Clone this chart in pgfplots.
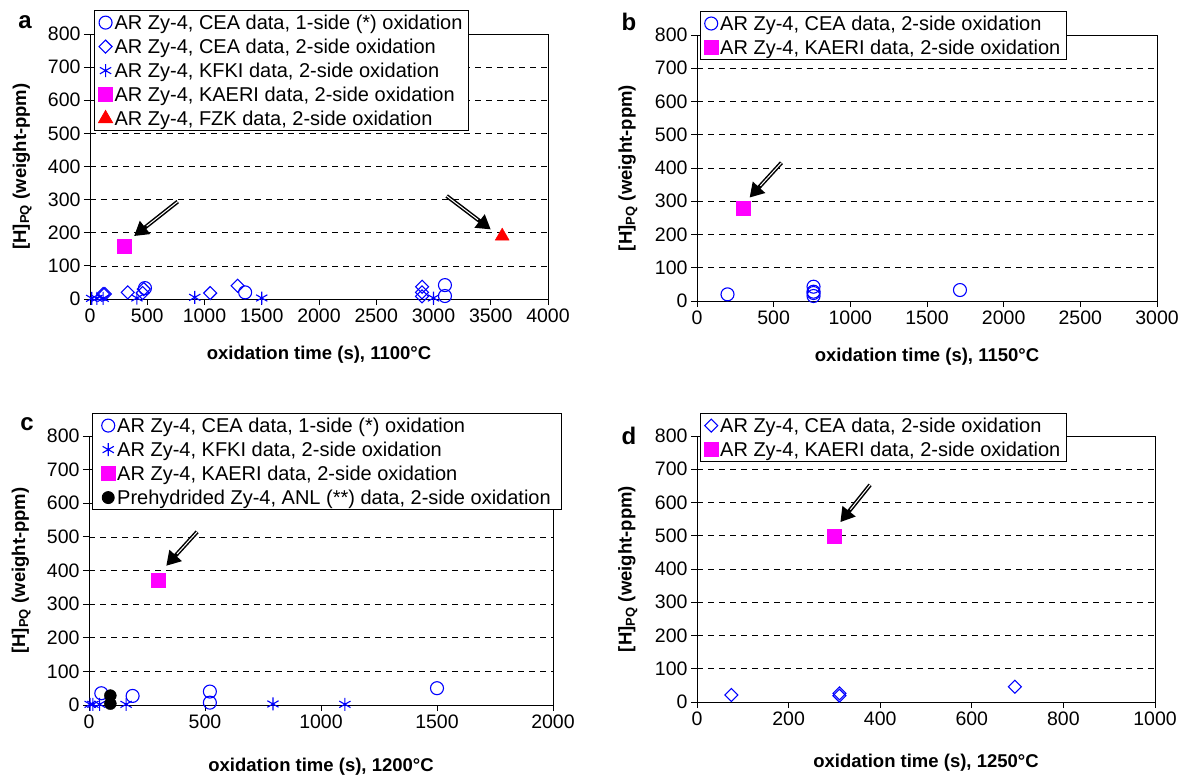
\documentclass[border=0pt]{standalone}
\usepackage{fontspec}
\setmainfont{Liberation Sans}
\usepackage{pgfplots}
\pgfplotsset{compat=1.18}
\usetikzlibrary{arrows.meta}
\definecolor{mblue}{RGB}{0,0,255}
\definecolor{mmag}{RGB}{255,0,255}
\definecolor{mred}{RGB}{255,0,0}

\newcommand{\hlabel}{[H]\textsubscript{PQ} (weight-ppm)}

\pgfplotsset{
  panel/.style={
    scale only axis, anchor=south west, clip=false,
    ymin=0, ymax=800, ytick={0,100,...,800}, xmin=0,
    ymajorgrids, grid style={black, line width=0.7pt, dash pattern=on 6pt off 5pt},
    axis line style={black, line width=0.9pt},
    tick align=outside, xtick pos=bottom, ytick pos=left,
    major tick length=6pt, tick style={black, line width=0.9pt},
    /pgf/number format/assume math mode=true,
    /pgf/number format/1000 sep={},
    ticklabel style={font=\fontsize{19.5}{22}\selectfont},
    label style={font=\fontsize{18.5}{21}\selectfont\bfseries},
    legend cell align=left,
    legend style={draw=black, line width=0.9pt, inner xsep=4pt, inner ysep=2pt,
      anchor=north west, row sep=4pt, font=\fontsize{20}{24}\selectfont},
    legend image code/.code={\draw[mark repeat=2,mark phase=2,#1] plot coordinates {(0pt,0pt)(8pt,0pt)(18pt,0pt)};},
  },
  cea1/.style={only marks, mark=o, mark size=6.5pt, color=mblue, mark options={line width=1.1pt}},
  cea2/.style={only marks, mark=square, mark size=4.6pt, color=mblue, mark options={rotate=45, line width=1.1pt}},
  kfki/.style={only marks, mark=asterisk, mark size=6.5pt, color=mblue, mark options={line width=1.1pt}},
  kaeri/.style={only marks, mark=square*, mark size=7pt, color=mmag, mark options={draw=mmag, fill=mmag}},
  fzk/.style={only marks, mark=triangle*, mark size=8pt, color=mred, mark options={draw=mred, fill=mred}},
  anl/.style={only marks, mark=*, mark size=6pt, color=black},
}
\tikzset{bigarrow/.style={line width=4pt, -{Triangle[length=14pt,width=16pt]}}}

\begin{document}
\begin{tikzpicture}
\path[use as bounding box] (0pt,0pt) rectangle (1179pt,-778pt);

% panel a
\begin{axis}[panel, at={(90pt,-299pt)}, width=458pt, height=265pt,
  xmax=4000, xtick={0,500,...,4000},
  xlabel={oxidation time (s), 1100°C}, ylabel={\hlabel},
  xlabel style={at={(axis description cs:0.5,-0.21)}, anchor=center},
  ylabel style={at={(axis description cs:-0.148,0.5)}, anchor=center},
  legend style={at={(axis description cs:0.009,1.09)}}]
\addplot[cea1] coordinates {(480,33) (1355,20) (3100,42) (3100,9)};
\addlegendentry{AR Zy-4, CEA data, 1-side (*) oxidation}
\addplot[cea2] coordinates {(115,15) (130,15) (330,20) (460,18) (470,30) (1050,18) (1290,40) (2900,37) (2900,20) (2900,8)};
\addlegendentry{AR Zy-4, CEA data, 2-side oxidation}
\addplot[kfki] coordinates {(15,2) (60,2) (115,2) (410,3) (915,5) (1500,3) (3000,3)};
\addlegendentry{AR Zy-4, KFKI data, 2-side oxidation}
\addplot[kaeri] coordinates {(300,160)};
\addlegendentry{AR Zy-4, KAERI data, 2-side oxidation}
\addplot[fzk] coordinates {(3600,190)};
\addlegendentry{AR Zy-4, FZK data, 2-side oxidation}
\draw[bigarrow] (axis cs:766,294) -- (axis cs:385,190);
\draw[white, line width=1pt, shorten >=16pt] (axis cs:766,294) -- (axis cs:385,190);
\draw[bigarrow] (axis cs:3115,311) -- (axis cs:3500,210);
\draw[white, line width=1pt, shorten >=16pt] (axis cs:3115,311) -- (axis cs:3500,210);
\end{axis}

% panel b
\begin{axis}[panel, at={(697pt,-301pt)}, width=460pt, height=266pt,
  xmax=3000, xtick={0,500,...,3000},
  xlabel={oxidation time (s), 1150°C}, ylabel={\hlabel},
  xlabel style={at={(axis description cs:0.5,-0.21)}, anchor=center},
  ylabel style={at={(axis description cs:-0.15,0.5)}, anchor=center},
  legend style={at={(axis description cs:0.006,1.09)}}]
\addplot[cea1] coordinates {(199,20) (760,43) (760,28) (760,24) (760,15) (1715,33)};
\addlegendentry{AR Zy-4, CEA data, 2-side oxidation}
\addplot[kaeri] coordinates {(300,280)};
\addlegendentry{AR Zy-4, KAERI data, 2-side oxidation}
\draw[bigarrow] (axis cs:551,416) -- (axis cs:343,311);
\draw[white, line width=1pt, shorten >=16pt] (axis cs:551,416) -- (axis cs:343,311);
\end{axis}

% panel c
\begin{axis}[panel, at={(89pt,-705pt)}, width=464pt, height=269pt,
  xmax=2000, xtick={0,500,...,2000},
  xlabel={oxidation time (s), 1200°C}, ylabel={\hlabel},
  xlabel style={at={(axis description cs:0.5,-0.23)}, anchor=center},
  ylabel style={at={(axis description cs:-0.146,0.5)}, anchor=center},
  legend style={at={(axis description cs:0.006,1.085)}, inner xsep=9pt}]
\addplot[cea1] coordinates {(53,35) (188,27) (521,40) (521,7) (1500,50)};
\addlegendentry{AR Zy-4, CEA data, 1-side (*) oxidation}
\addplot[kfki] coordinates {(5,2) (17,2) (46,2) (160,2) (793,3) (1103,2)};
\addlegendentry{AR Zy-4, KFKI data, 2-side oxidation}
\addplot[kaeri] coordinates {(300,372)};
\addlegendentry{AR Zy-4, KAERI data, 2-side oxidation}
\addplot[anl] coordinates {(92,28) (92,4)};
\addlegendentry{Prehydrided Zy-4, ANL (**) data, 2-side oxidation}
\draw[bigarrow] (axis cs:466,515) -- (axis cs:333,414);
\draw[white, line width=1pt, shorten >=16pt] (axis cs:466,515) -- (axis cs:333,414);
\end{axis}

% panel d
\begin{axis}[panel, at={(697pt,-702pt)}, width=458pt, height=266pt,
  xmax=1000, xtick={0,200,...,1000},
  xlabel={oxidation time (s), 1250°C}, ylabel={\hlabel},
  xlabel style={at={(axis description cs:0.5,-0.23)}, anchor=center},
  ylabel style={at={(axis description cs:-0.151,0.5)}, anchor=center},
  legend style={at={(axis description cs:0.006,1.086)}}]
\addplot[cea2] coordinates {(75,21) (311,26) (311,19) (694,46)};
\addlegendentry{AR Zy-4, CEA data, 2-side oxidation}
\addplot[kaeri] coordinates {(300,500)};
\addlegendentry{AR Zy-4, KAERI data, 2-side oxidation}
\draw[bigarrow] (axis cs:378,653) -- (axis cs:313,541);
\draw[white, line width=1pt, shorten >=16pt] (axis cs:378,653) -- (axis cs:313,541);
\end{axis}

\node[font=\fontsize{24}{26}\selectfont\bfseries] at (25pt,-22pt) {a};
\node[font=\fontsize{24}{26}\selectfont\bfseries] at (629pt,-22pt) {b};
\node[font=\fontsize{24}{26}\selectfont\bfseries] at (27pt,-424pt) {c};
\node[font=\fontsize{24}{26}\selectfont\bfseries] at (629pt,-436pt) {d};
\end{tikzpicture}
\end{document}
